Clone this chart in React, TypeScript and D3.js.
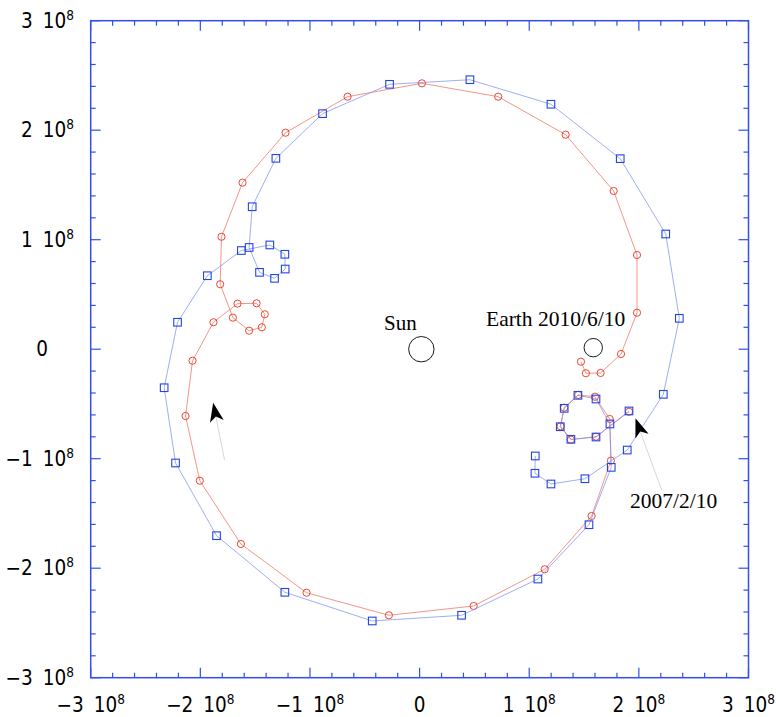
import React from "react";
import * as d3 from "d3";

// positions in units of 1e8 km, sampled along each trajectory
const redPath: [number, number][] = [
  [1.910, -0.571], [1.609, -0.799], [1.380, -0.826], [1.286, -0.704], [1.319, -0.534],
  [1.447, -0.418], [1.599, -0.434], [1.734, -0.637], [1.745, -1.018], [1.569, -1.523],
  [1.141, -2.010], [0.493, -2.345], [-0.280, -2.430], [-1.031, -2.224], [-1.630, -1.779],
  [-2.005, -1.201], [-2.135, -0.610], [-2.071, -0.105], [-1.880, 0.246], [-1.661, 0.416],
  [-1.487, 0.419], [-1.412, 0.319], [-1.439, 0.200], [-1.555, 0.169], [-1.703, 0.288],
  [-1.819, 0.593], [-1.807, 1.027], [-1.615, 1.521], [-1.223, 1.977], [-0.657, 2.306],
  [0.021, 2.428], [0.717, 2.306], [1.332, 1.959], [1.770, 1.445], [1.983, 0.860],
  [1.983, 0.333], [1.837, -0.044], [1.651, -0.217], [1.517, -0.220], [1.472, -0.114],
];

const bluePath: [number, number][] = [
  [1.910, -0.564], [1.609, -0.802], [1.380, -0.823], [1.283, -0.708], [1.319, -0.540],
  [1.444, -0.421], [1.609, -0.455], [1.736, -0.683], [1.748, -1.079], [1.545, -1.603],
  [1.079, -2.099], [0.383, -2.430], [-0.432, -2.482], [-1.229, -2.220], [-1.852, -1.703],
  [-2.226, -1.039], [-2.330, -0.352], [-2.208, 0.246], [-1.936, 0.671], [-1.626, 0.901],
  [-1.366, 0.952], [-1.229, 0.867], [-1.226, 0.732], [-1.323, 0.647], [-1.460, 0.702],
  [-1.555, 0.929], [-1.527, 1.301], [-1.311, 1.743], [-0.885, 2.151], [-0.274, 2.419],
  [0.459, 2.461], [1.198, 2.237], [1.830, 1.740], [2.245, 1.052], [2.369, 0.282],
  [2.223, -0.412], [1.894, -0.921], [1.508, -1.183], [1.198, -1.231], [1.052, -1.133],
  [1.055, -0.975],
];

const sun = { x: 0.016, y: 0, label: "Sun" };
const earth = { x: 1.584, y: 0.014, label: "Earth 2010/6/10" };
const startLabel = "2007/2/10";

// arrow pointers: [tip, tail]
const arrows: [[number, number], [number, number]][] = [
  [[-1.883, -0.489], [-1.779, -1.012]],
  [[1.969, -0.631], [2.208, -1.286]],
];

const majorTicks = [-3, -2, -1, 0, 1, 2, 3];
const minorTicks = d3.range(-30, 31, 2).map((d) => d / 10);

const W = 776;
const H = 717;
const frameBlue = "#3050ee";
const tickFont = "'Liberation Sans Narrow', 'DejaVu Sans Condensed', 'Arial Narrow', sans-serif";
const serif = "'Liberation Serif', 'Times New Roman', serif";

function TickLabel({ v, x, y, anchor }: { v: number; x: number; y: number; anchor: string }) {
  if (v === 0) {
    return (
      <text x={x} y={y} textAnchor="middle" fontFamily={tickFont} fontSize={20.5}>
        0
      </text>
    );
  }
  const m = v < 0 ? `\u2212${Math.abs(v)}` : `${v}`;
  return (
    <text x={x} y={y} textAnchor={anchor} fontFamily={tickFont} fontSize={20.5} fill="#000">
      <tspan>{m}</tspan>
      <tspan dx={10}>10</tspan>
      <tspan dy={-8} fontSize={13.5}>8</tspan>
    </text>
  );
}

export default function App() {
  const x = d3.scaleLinear().domain([-3, 3]).range([90.7, 748.5]);
  const y = d3.scaleLinear().domain([-3, 3]).range([677.7, 20.7]);

  const line = d3
    .line<[number, number]>()
    .x((d) => x(d[0]))
    .y((d) => y(d[1]));

  const [x0, x1] = x.range();
  const [y0, y1] = y.range();

  const arrowHead = (tip: [number, number], tail: [number, number]) => {
    const tx = x(tip[0]), ty = y(tip[1]);
    const bx = x(tail[0]) - tx, by = y(tail[1]) - ty;
    const len = Math.hypot(bx, by);
    const ux = bx / len, uy = by / len; // backwards
    const nx = -uy, ny = ux;
    const pt = (u: number, v: number) => [tx + ux * u + nx * v, ty + uy * u + ny * v];
    const pts = [pt(0, 0), pt(19, 7), pt(14, 0), pt(19, -7)];
    return { pts, notch: pt(14, 0), end: [x(tail[0]), y(tail[1])] };
  };

  return (
    <svg width={W} height={H} style={{ position: "absolute", left: 0, top: 0 }}>
      <rect width={W} height={H} fill="#fff" />

      {/* frame */}
      <rect x={x0} y={y1} width={x1 - x0} height={y0 - y1} fill="none" stroke={frameBlue} strokeWidth={1.5} />
      {minorTicks.map((t) => {
        const major = Math.abs(t - Math.round(t)) < 1e-6;
        const L = major ? 10 : 5;
        return (
          <g key={t} stroke={frameBlue} strokeWidth={1.2}>
            <line x1={x(t)} x2={x(t)} y1={y0} y2={y0 - L} />
            <line x1={x(t)} x2={x(t)} y1={y1} y2={y1 + L} />
            <line x1={x0} x2={x0 + L} y1={y(t)} y2={y(t)} />
            <line x1={x1} x2={x1 - L} y1={y(t)} y2={y(t)} />
          </g>
        );
      })}

      {/* tick labels */}
      {majorTicks.map((t) => (
        <TickLabel key={"x" + t} v={t} x={x(t)} y={711.5} anchor="middle" />
      ))}
      {majorTicks.map((t) => (
        <TickLabel key={"y" + t} v={t} x={t === 0 ? 42 : 74} y={y(t) + 7} anchor="end" />
      ))}

      {/* trajectories */}
      <path d={line(redPath) ?? ""} fill="none" stroke="#f07a6c" strokeWidth={1} strokeOpacity={0.8} />
      {redPath.map((d, i) => (
        <circle key={"r" + i} cx={x(d[0])} cy={y(d[1])} r={3.6} fill="none" stroke="#e8341f" strokeWidth={0.9} />
      ))}
      <path d={line(bluePath) ?? ""} fill="none" stroke="#8092f0" strokeWidth={1} strokeOpacity={0.75} />
      {bluePath.map((d, i) => (
        <rect
          key={"b" + i}
          x={x(d[0]) - 3.8}
          y={y(d[1]) - 3.8}
          width={7.6}
          height={7.6}
          fill="none"
          stroke="#2246e0"
          strokeWidth={1.1}
        />
      ))}

      {/* Sun and Earth */}
      <circle cx={x(sun.x)} cy={y(sun.y)} r={12.7} fill="none" stroke="#000" strokeWidth={0.9} />
      <text x={x(sun.x) - 21} y={329.5} textAnchor="middle" fontFamily={serif} fontSize={21}>
        {sun.label}
      </text>
      <circle cx={x(earth.x)} cy={y(earth.y)} r={9.2} fill="none" stroke="#000" strokeWidth={0.9} />
      <text x={486} y={326} fontFamily={serif} fontSize={21.5}>
        {earth.label}
      </text>

      {/* pointers */}
      {arrows.map(([tip, tail], i) => {
        const a = arrowHead(tip, tail);
        return (
          <g key={"a" + i}>
            <line x1={a.notch[0]} y1={a.notch[1]} x2={a.end[0]} y2={a.end[1]} stroke="#d8d8d8" strokeWidth={1} />
            <polygon points={a.pts.map((p) => p.join(",")).join(" ")} fill="#000" />
          </g>
        );
      })}
      <text x={630} y={507.5} fontFamily={serif} fontSize={21.5}>
        {startLabel}
      </text>
    </svg>
  );
}
